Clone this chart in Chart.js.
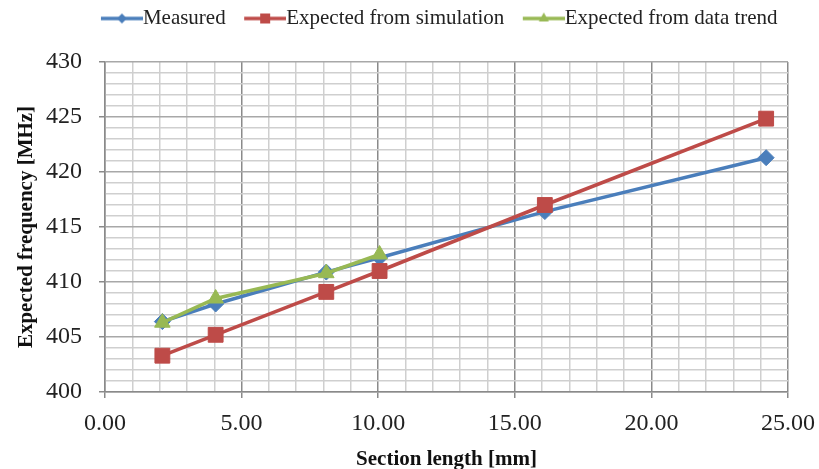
<!DOCTYPE html>
<html>
<head>
<meta charset="utf-8">
<script src="https://cdn.jsdelivr.net/npm/chart.js@4/dist/chart.umd.min.js"></script>
<style>
  body { margin: 0; background: #fff; }
  #wrap { width: 819px; height: 469px; }
</style>
</head>
<body>
<div id="wrap"><canvas id="freqChart" width="819" height="469"></canvas></div>
<script>
// section lengths (mm) where points were taken
const sectionLength = [2.1, 4.05, 8.1, 10.05, 16.1, 24.2];
const measured = [406.4, 408.0, 410.9, 412.2, 416.4, 421.3];
const simulation = [403.3, 405.2, 409.1, 411.0, 417.0, 424.85];
const trendLength = [2.1, 4.05, 8.1, 10.05];
const dataTrend = [406.3, 408.5, 410.8, 412.5];

const seriesNames = ['Measured', 'Expected from simulation', 'Expected from data trend'];
const colors = ['#4a7ebb', '#be4b48', '#98b954'];
const markers = ['rectRot', 'rect', 'triangle'];

const FONT = "'Liberation Serif', 'DejaVu Serif', serif";
const LEGEND_CENTER = 434;

function toPoints(xs, ys) {
  return xs.map((x, i) => ({ x: x, y: ys[i] }));
}

// line+marker picture for the legend; chart.js centres it on the box,
// so the left 21px end up hanging out and the line reaches the text
function legendIcon(color, style) {
  const c = document.createElement('canvas');
  c.width = 63; c.height = 16;
  const ctx = c.getContext('2d');
  ctx.strokeStyle = color;
  ctx.lineWidth = 3.5;
  ctx.beginPath();
  ctx.moveTo(21, 8); ctx.lineTo(63, 8);
  ctx.stroke();
  ctx.fillStyle = color;
  ctx.beginPath();
  if (style === 'rect') { ctx.rect(37, 3, 10, 10); }
  else if (style === 'rectRot') { ctx.moveTo(42, 3); ctx.lineTo(47, 8); ctx.lineTo(42, 13); ctx.lineTo(37, 8); ctx.closePath(); }
  else { ctx.moveTo(42, 2); ctx.lineTo(47, 11); ctx.lineTo(37, 11); ctx.closePath(); }
  ctx.fill();
  return c;
}

const datasets = [
  { label: seriesNames[0], data: toPoints(sectionLength, measured), radius: 8 },
  { label: seriesNames[1], data: toPoints(sectionLength, simulation), radius: 10.5 },
  { label: seriesNames[2], data: toPoints(trendLength, dataTrend), radius: 9 }
].map((d, i) => ({
  label: d.label,
  data: d.data,
  showLine: true,
  borderColor: colors[i],
  backgroundColor: colors[i],
  borderWidth: 3.5,
  pointStyle: markers[i],
  pointRadius: d.radius,
  pointBorderWidth: 1,
  order: 3 - i
}));

const icons = colors.map((c, i) => legendIcon(c, markers[i]));

function gridColor(ctx, majorColor) {
  const v = ctx.tick ? ctx.tick.value : 0;
  return (Math.round(v) % 5 === 0) ? majorColor : '#cfcfcf';
}

// gap under the legend, and slide the legend to where it sits in the original
const legendPlace = {
  id: 'legendPlace',
  beforeInit(chart) {
    const fit = chart.legend.fit;
    chart.legend.fit = function() {
      fit.bind(chart.legend)();
      this.height += 23;
    };
  },
  afterLayout(chart) {
    const lg = chart.legend;
    const shift = LEGEND_CENTER - (lg.left + lg.right) / 2;
    lg.left += shift;
    lg.right += shift;
  }
};

new Chart(document.getElementById('freqChart'), {
  type: 'scatter',
  data: { datasets: datasets },
  plugins: [legendPlace],
  options: {
    responsive: false,
    animation: false,
    layout: { padding: { top: 0, left: 14, right: 0, bottom: 0 } },
    plugins: {
      tooltip: { enabled: false },
      legend: {
        position: 'top',
        labels: {
          usePointStyle: true,
          pointStyleWidth: 42,
          padding: 8,
          color: '#222',
          font: { family: FONT, size: 21 },
          sort: (a, b) => a.datasetIndex - b.datasetIndex,
          generateLabels: function(chart) {
            const items = Chart.defaults.plugins.legend.labels.generateLabels(chart);
            items.forEach(it => { it.pointStyle = icons[it.datasetIndex]; });
            return items;
          }
        }
      }
    },
    scales: {
      x: {
        type: 'linear',
        min: 0,
        max: 25,
        afterFit: scale => {
          scale.height = 77;
          scale.paddingLeft = 0;
          scale.paddingRight = 31;
        },
        ticks: {
          stepSize: 1,
          autoSkip: false,
          maxRotation: 0,
          color: '#222',
          padding: 11,
          font: { family: FONT, size: 24 },
          callback: v => (v % 5 === 0 ? v.toFixed(2) : '')
        },
        grid: {
          color: ctx => gridColor(ctx, '#8a8a8a'),
          lineWidth: 1.5,
          tickLength: 6,
          tickColor: ctx => (ctx.tick && ctx.tick.value % 5 === 0 ? '#8a8a8a' : 'rgba(0,0,0,0)')
        },
        border: { color: '#8a8a8a', width: 1.5 },
        title: {
          display: true,
          text: 'Section length [mm]',
          color: '#111',
          font: { family: FONT, size: 21, weight: 'bold' },
          padding: { top: 8, bottom: -3 }
        }
      },
      y: {
        min: 400,
        max: 430,
        afterFit: scale => { scale.width = 91; },
        ticks: {
          stepSize: 1,
          autoSkip: false,
          color: '#222',
          padding: 17,
          font: { family: FONT, size: 24 },
          callback: v => (v % 5 === 0 ? String(v) : '')
        },
        grid: {
          color: ctx => gridColor(ctx, '#a8a8a8'),
          lineWidth: 1.5,
          tickLength: 6,
          tickColor: ctx => (ctx.tick && ctx.tick.value % 5 === 0 ? '#8a8a8a' : 'rgba(0,0,0,0)')
        },
        border: { color: '#8a8a8a', width: 1.5 },
        title: {
          display: true,
          text: 'Expected frequency [MHz]',
          color: '#111',
          font: { family: FONT, size: 21, weight: 'bold' },
          padding: { top: 0, bottom: 4 }
        }
      }
    }
  }
});
</script>
</body>
</html>
